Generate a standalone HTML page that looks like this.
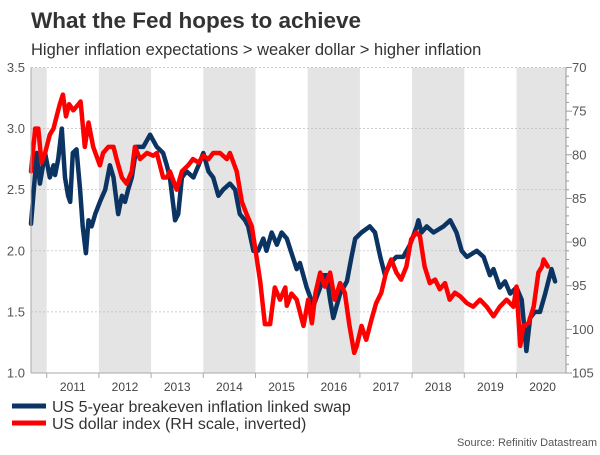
<!DOCTYPE html>
<html><head><meta charset="utf-8"><style>
body{margin:0;background:#fff;}
svg text{font-family:"Liberation Sans",Arial,sans-serif;}
</style></head><body>
<svg id="chart" width="600" height="450" viewBox="0 0 600 450">
<text x="31" y="28" font-size="22.5" font-weight="bold" fill="#333">What the Fed hopes to achieve</text>
<text x="31" y="55" font-size="16.5" fill="#333">Higher inflation expectations &gt; weaker dollar &gt; higher inflation</text>
<g id="bands"></g>
<g id="grid"></g>
<g id="series"></g>
<g id="axes"></g>
<g>
<line x1="12" y1="406" x2="46" y2="406" stroke="#0b3462" stroke-width="5"/>
<text x="52" y="412" font-size="16" fill="#333">US 5-year breakeven inflation linked swap</text>
<line x1="12" y1="423" x2="46" y2="423" stroke="#ff0000" stroke-width="5"/>
<text x="52" y="429" font-size="16" fill="#333">US dollar index (RH scale, inverted)</text>
</g>
<text x="597" y="446" font-size="11" fill="#555" text-anchor="end">Source: Refinitiv Datastream</text>
</svg>
<script>
const yearLabels=[2011,2012,2013,2014,2015,2016,2017,2018,2019,2020];
const leftTicks=[1.0,1.5,2.0,2.5,3.0,3.5];
const rightTicks=[70,75,80,85,90,95,100,105];
const blueDates=[2010.70,2010.81,2010.87,2010.97,2011.06,2011.13,2011.16,2011.22,2011.29,2011.35,2011.41,2011.45,2011.50,2011.57,2011.64,2011.69,2011.75,2011.80,2011.86,2011.93,2012.02,2012.12,2012.21,2012.28,2012.37,2012.44,2012.50,2012.56,2012.63,2012.72,2012.85,2012.98,2013.11,2013.23,2013.30,2013.36,2013.46,2013.52,2013.59,2013.68,2013.81,2013.91,2014.00,2014.10,2014.19,2014.29,2014.38,2014.51,2014.61,2014.70,2014.80,2014.86,2014.96,2015.05,2015.15,2015.21,2015.31,2015.41,2015.50,2015.60,2015.79,2015.85,2015.98,2016.11,2016.24,2016.30,2016.36,2016.43,2016.49,2016.62,2016.75,2016.84,2016.91,2017.03,2017.19,2017.29,2017.39,2017.48,2017.58,2017.70,2017.83,2017.96,2018.09,2018.12,2018.18,2018.28,2018.41,2018.60,2018.73,2018.85,2018.95,2019.05,2019.24,2019.37,2019.49,2019.56,2019.68,2019.78,2019.88,2020.00,2020.10,2020.19,2020.26,2020.35,2020.45,2020.55,2020.61,2020.67,2020.74];
const blueValues=[2.22,2.8,2.55,2.8,2.6,2.7,2.62,2.75,3.0,2.6,2.45,2.4,2.8,2.83,2.5,2.2,1.98,2.25,2.2,2.3,2.4,2.5,2.7,2.6,2.3,2.45,2.4,2.5,2.6,2.85,2.85,2.95,2.85,2.8,2.7,2.6,2.25,2.3,2.6,2.65,2.6,2.7,2.8,2.65,2.6,2.45,2.5,2.55,2.5,2.3,2.25,2.2,2.0,2.0,2.1,2.0,2.15,2.05,2.15,2.1,1.85,1.9,1.7,1.55,1.7,1.8,1.8,1.6,1.45,1.65,1.75,1.95,2.1,2.15,2.2,2.15,1.95,1.8,1.9,1.95,1.95,2.05,2.2,2.25,2.15,2.2,2.15,2.2,2.25,2.15,2.0,1.95,2.0,1.95,1.8,1.85,1.7,1.75,1.65,1.7,1.6,1.18,1.45,1.5,1.5,1.65,1.75,1.85,1.75];
const redDates=[2010.70,2010.78,2010.84,2010.90,2010.97,2011.06,2011.13,2011.19,2011.25,2011.31,2011.37,2011.43,2011.51,2011.61,2011.65,2011.73,2011.80,2011.89,2012.02,2012.08,2012.18,2012.28,2012.34,2012.44,2012.53,2012.63,2012.69,2012.79,2012.92,2013.04,2013.11,2013.23,2013.30,2013.36,2013.49,2013.59,2013.71,2013.80,2013.91,2014.00,2014.10,2014.19,2014.32,2014.45,2014.51,2014.64,2014.74,2014.83,2014.93,2015.02,2015.09,2015.18,2015.28,2015.37,2015.47,2015.57,2015.60,2015.69,2015.79,2015.92,2016.01,2016.08,2016.15,2016.24,2016.33,2016.43,2016.52,2016.62,2016.71,2016.80,2016.89,2016.94,2017.03,2017.12,2017.22,2017.31,2017.41,2017.50,2017.60,2017.70,2017.79,2017.89,2017.98,2018.08,2018.15,2018.24,2018.34,2018.44,2018.53,2018.63,2018.72,2018.82,2018.92,2019.05,2019.17,2019.30,2019.43,2019.56,2019.68,2019.81,2019.94,2020.00,2020.07,2020.13,2020.23,2020.33,2020.42,2020.49,2020.52,2020.60];
const redValues=[81.9,77.0,77.0,80.9,79.8,77.7,77.0,75.6,74.2,73.1,75.6,74.2,74.9,74.2,73.9,79.1,76.3,79.1,81.2,79.8,79.1,79.1,80.5,82.6,83.3,81.9,79.1,80.5,79.8,80.1,79.8,82.6,82.6,81.9,84.0,81.9,81.2,80.5,80.9,80.1,80.5,79.8,79.8,80.5,79.8,81.9,85.4,86.8,88.2,91.7,94.5,99.4,99.4,95.2,96.6,95.2,97.3,95.9,96.6,99.6,96.6,99.3,95.8,93.5,95.1,93.5,96.6,94.7,95.8,99.6,102.7,101.9,99.6,101.2,98.9,97.0,95.8,93.5,92.0,93.5,94.3,92.8,89.7,88.9,89.3,92.8,94.7,94.3,95.4,94.7,96.6,95.8,96.2,97.0,97.4,96.6,97.4,98.5,97.4,96.6,97.4,95.1,101.9,99.6,99.3,97.4,93.5,92.8,92.0,92.8];

const NS='http://www.w3.org/2000/svg';
const PL=31,PR=566,PT=67.5,PB=373;
const X0=46.7,YW=52.2;
const xAt=t=>X0+(t-2011)*YW;
const yL=v=>PT+(3.5-v)/2.5*(PB-PT);
const yR=v=>PT+(v-70)/35*(PB-PT);
function mk(tag,attrs,parent){const e=document.createElementNS(NS,tag);for(const k in attrs)e.setAttribute(k,attrs[k]);parent.appendChild(e);return e;}
const bands=document.getElementById('bands'),grid=document.getElementById('grid'),series=document.getElementById('series'),axes=document.getElementById('axes');
[2010,2012,2014,2016,2018,2020].forEach(y=>{
  const x1=Math.max(PL,xAt(y)),x2=Math.min(PR,xAt(y+1));
  const r=mk('rect',{x:x1,y:PT,width:x2-x1,height:PB-PT,fill:'#e4e4e4'},bands);
  
  
});
leftTicks.forEach(v=>{
  const y=yL(v);
  if(v>1){const g=mk('line',{x1:PL,x2:PR,y1:y,y2:y,stroke:'#bbb','stroke-width':0.7,'stroke-dasharray':'2,2'},grid);
  
  }
  const t=mk('text',{x:25,y:y+4.5,'font-size':13,fill:'#555','text-anchor':'end'},axes);
  t.textContent=v.toFixed(1);
  
  
});
mk('line',{x1:PL,x2:PL,y1:PT,y2:PB,stroke:'#aaa','stroke-width':1},axes);
mk('line',{x1:PL,x2:PR,y1:PB,y2:PB,stroke:'#aaa','stroke-width':1},axes);
mk('line',{x1:PR,x2:PR,y1:PT,y2:PB,stroke:'#999','stroke-width':1},axes);
for(let v=70;v<=105;v++){const y=yR(v);mk('line',{x1:PR,x2:PR+(v%5==0?6:3),y1:y,y2:y,stroke:'#999','stroke-width':1},axes);}
rightTicks.forEach(v=>{
  const t=mk('text',{x:572,y:yR(v)+4.5,'font-size':13,fill:'#555'},axes);
  t.textContent=v;
  
  
});
yearLabels.forEach(yr=>{
  mk('line',{x1:xAt(yr),x2:xAt(yr),y1:PB,y2:PB+5,stroke:'#aaa','stroke-width':1},axes);
  const t=mk('text',{x:xAt(yr)+YW/2,y:391,'font-size':12,fill:'#444','text-anchor':'middle'},axes);
  t.textContent=yr;
  
  
});
function path(dates,vals,fy,color,name){
  const d=dates.map((t,i)=>(i?'L':'M')+xAt(t).toFixed(1)+','+fy(vals[i]).toFixed(1)).join('');
  const p=mk('path',{d:d,fill:'none',stroke:color,'stroke-width':4.5,'stroke-linejoin':'round','stroke-linecap':'round'},series);
  
  
}
path(blueDates,blueValues,yL,'#0b3462','breakeven-line');
path(redDates,redValues,yR,'#ff0000','dollar-index-line');
</script>
</body></html>
